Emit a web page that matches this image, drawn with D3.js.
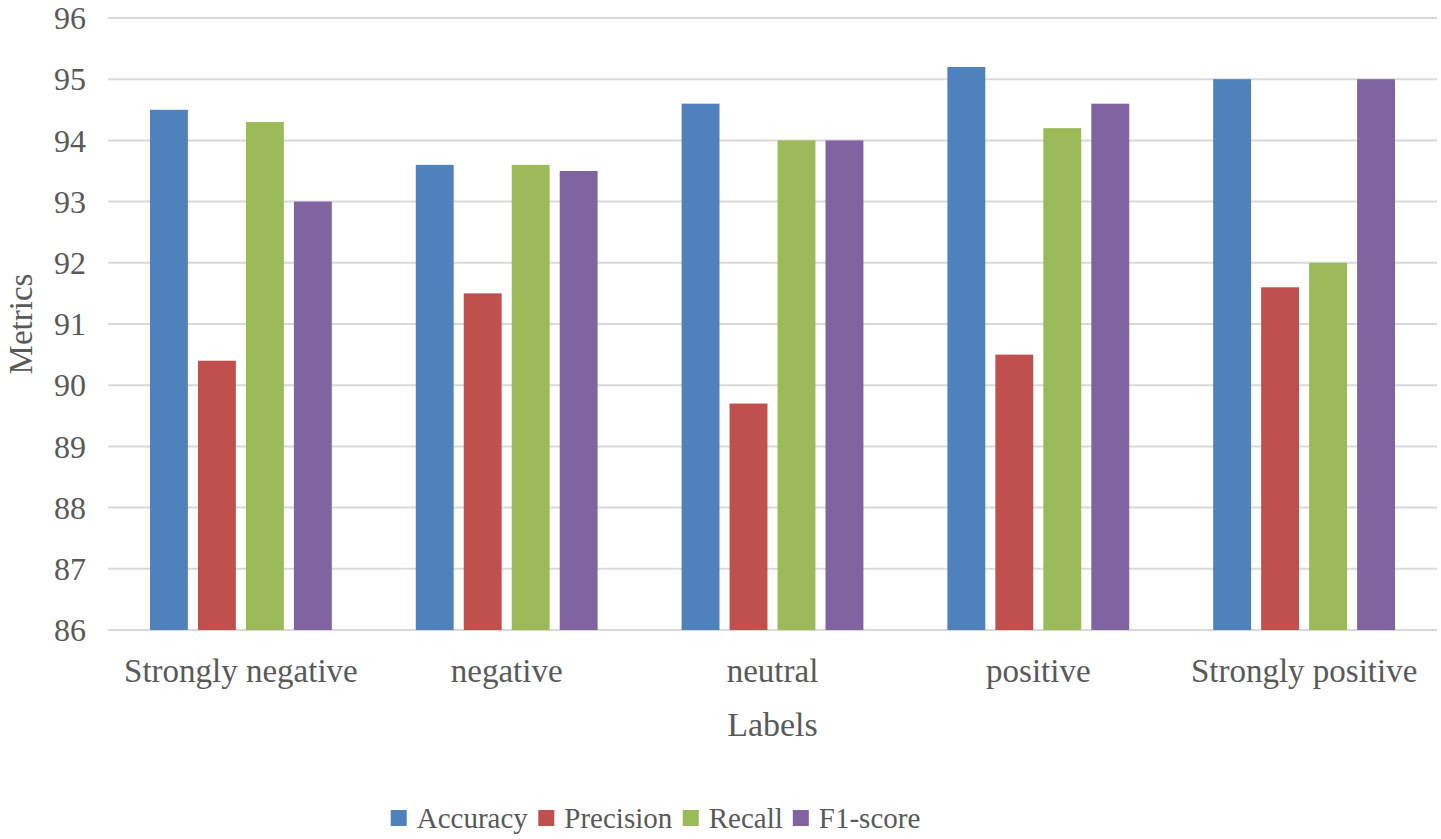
<!DOCTYPE html>
<html>
<head>
<meta charset="utf-8">
<script src="https://cdn.jsdelivr.net/npm/d3@7"></script>
<style>
  body { margin: 0; background: #fff; }
  text { font-family: "Liberation Serif", "DejaVu Serif", serif; fill: #595959; }
</style>
</head>
<body>
<div class="chart"></div>
<script>
const width = 1441;
const height = 839;

const categories = ["Strongly negative", "negative", "neutral", "positive", "Strongly positive"];
const seriesNames = ["Accuracy", "Precision", "Recall", "F1-score"];
const accuracy  = [94.5, 93.6, 94.6, 95.2, 95.0];
const precision = [90.4, 91.5, 89.7, 90.5, 91.6];
const recall    = [94.3, 93.6, 94.0, 94.2, 92.0];
const f1score   = [93.0, 93.5, 94.0, 94.6, 95.0];
const yTicks = [86, 87, 88, 89, 90, 91, 92, 93, 94, 95, 96];

const colors = ["#4F81BD", "#C0504D", "#9BBB59", "#8064A2"];
const seriesValues = [accuracy, precision, recall, f1score];

const margin = {top: 18, right: 4, bottom: 209, left: 108};

const svg = d3.select(".chart")
    .append("svg")
        .attr("width", width)
        .attr("height", height);

const x0 = d3.scaleBand()
    .domain(categories)
    .range([margin.left, width - margin.right]);

const x1 = d3.scaleBand()
    .domain(seriesNames)
    .range([0, x0.bandwidth()])
    .paddingInner(0.21)
    .paddingOuter(0.875);

const y = d3.scaleLinear()
    .domain([86, 96])
    .range([height - margin.bottom, margin.top]);

const color = d3.scaleOrdinal(seriesNames, colors);

// gridlines
svg.append("g")
    .selectAll("line")
    .data(yTicks)
    .join("line")
        .attr("x1", margin.left)
        .attr("x2", width - margin.right)
        .attr("y1", d => y(d))
        .attr("y2", d => y(d))
        .attr("stroke", "#D9D9D9")
        .attr("stroke-width", 2);

// y tick labels
svg.append("g")
    .selectAll("text")
    .data(yTicks)
    .join("text")
        .attr("x", 86)
        .attr("y", d => y(d))
        .attr("dy", "0.35em")
        .attr("text-anchor", "end")
        .attr("font-size", 32)
        .text(d => d);

// bars
const rows = categories.map((c, i) => ({
    cat: c,
    vals: seriesNames.map((s, j) => ({key: s, value: seriesValues[j][i]}))
}));

svg.append("g")
    .selectAll("g")
    .data(rows)
    .join("g")
        .attr("transform", d => "translate(" + x0(d.cat) + ",0)")
    .selectAll("rect")
    .data(d => d.vals)
    .join("rect")
        .attr("x", d => x1(d.key))
        .attr("width", x1.bandwidth())
        .attr("y", d => y(d.value))
        .attr("height", d => y(86) - y(d.value))
        .attr("fill", d => color(d.key));

// category labels
svg.append("g")
    .selectAll("text")
    .data(categories)
    .join("text")
        .attr("x", d => x0(d) + x0.bandwidth() / 2)
        .attr("y", 670)
        .attr("dy", "0.35em")
        .attr("text-anchor", "middle")
        .attr("font-size", 33)
        .text(d => d);

// axis titles
svg.append("text")
    .attr("x", x0.range()[0] + (x0.range()[1] - x0.range()[0]) / 2)
    .attr("y", 724)
    .attr("dy", "0.35em")
    .attr("text-anchor", "middle")
    .attr("font-size", 34)
    .text("Labels");

svg.append("text")
    .attr("transform", "translate(20," + (y(91)) + ") rotate(-90)")
    .attr("dy", "0.35em")
    .attr("text-anchor", "middle")
    .attr("font-size", 33)
    .text("Metrics");

// legend - lay out items by measured text width, centred
const legend = svg.append("g");
const items = legend.selectAll("g")
    .data(seriesNames)
    .join("g");

items.append("rect")
    .attr("x", 0)
    .attr("y", -8)
    .attr("width", 16)
    .attr("height", 16)
    .attr("fill", d => color(d));

items.append("text")
    .attr("x", 26)
    .attr("dy", "0.35em")
    .attr("font-size", 29)
    .text(d => d);

let offset = 0;
items.each(function() {
    const w = this.getBBox().width;
    d3.select(this).attr("transform", "translate(" + offset + ",818)");
    offset += w + 10;
});
const total = offset - 10;
legend.attr("transform", "translate(" + (655.5 - total / 2) + ",0)");
</script>
</body>
</html>
